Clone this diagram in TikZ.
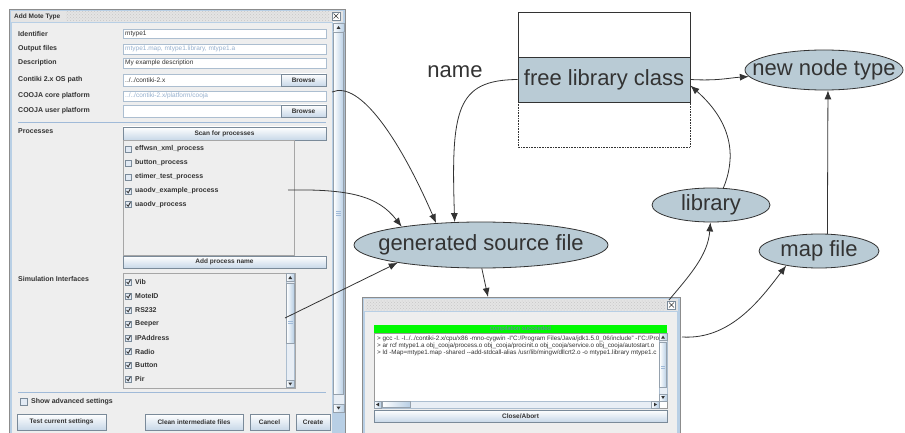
\documentclass[tikz,border=0pt]{standalone}
\usepackage{fontspec}
\setmainfont{Liberation Sans}
\usetikzlibrary{arrows.meta,shapes.geometric,patterns}

\definecolor{ink}{RGB}{51,51,51}
\definecolor{nodefill}{RGB}{185,203,213}
\definecolor{panel}{RGB}{238,238,238}
\definecolor{frameblue}{RGB}{184,207,229}
\definecolor{titlegray}{RGB}{228,228,228}
\definecolor{fieldline}{RGB}{172,190,208}
\definecolor{offblue}{RGB}{150,176,206}
\definecolor{sepblue}{RGB}{160,186,216}
\definecolor{btnline}{RGB}{122,138,153}
\definecolor{btnbot}{RGB}{200,216,232}
\definecolor{chkfill}{RGB}{226,234,244}
\definecolor{scrollblue}{RGB}{184,207,229}
\definecolor{trackfill}{RGB}{232,238,245}
\definecolor{okgreen}{RGB}{0,250,0}
\definecolor{oktext}{RGB}{115,115,185}

\tikzset{
  bubble/.style={ellipse,draw=ink,fill=nodefill,inner sep=0pt,line width=0.8pt,
    font=\fontsize{22}{24}\selectfont,text=ink},
  flow/.style={draw=ink,line width=0.8pt,-{Latex[length=9pt,width=7pt]}},
  ui/.style={font=\fontsize{7}{8}\selectfont\bfseries,text=ink,inner sep=0pt,anchor=west},
  entry/.style={font=\fontsize{6.5}{8}\selectfont,text=ink,inner sep=0pt,anchor=west},
  dimtext/.style={entry,text=offblue},
  field/.style={draw=fieldline,fill=white,line width=0.6pt},
  jbutton/.style={draw=btnline,top color=white,bottom color=btnbot,inner sep=0pt,line width=0.6pt,
    font=\fontsize{6.5}{8}\selectfont\bfseries,text=ink},
  chkbox/.style={draw=btnline,fill=chkfill,line width=0.5pt},
  checkmark/.style={draw=ink,line width=0.9pt},
  thumb/.style={draw=btnline!80,left color=white,right color=scrollblue,line width=0.4pt},
  track/.style={draw=fieldline,fill=trackfill,line width=0.4pt},
  winframe/.style={fill=frameblue,draw=black!45,line width=0.5pt},
  logtext/.style={font=\fontsize{6.3}{7}\selectfont,text=ink,inner sep=0pt,anchor=west},
}

\begin{document}
\begin{tikzpicture}[x=1pt,y=-1pt]
\useasboundingbox (0,0) rectangle (905,433);

% Add Mote Type dialog
\path[winframe] (9,9) rectangle (345,440);
\fill[titlegray] (11,11) rectangle (343,22);
\fill[pattern=crosshatch dots,pattern color=black!22] (66,12) rectangle (329,21);
\node[ui,font=\fontsize{6.5}{8}\selectfont\bfseries] (dlgtitle) at (14,16.5) {Add Mote Type};
\draw[chkbox,fill=white] (332,12) rectangle (340,20);
\draw[ink,line width=0.6pt] (333.5,13.5) -- (338.5,18.5) (333.5,18.5) -- (338.5,13.5);
\fill[panel] (12,23) rectangle (332,440);

% right scroll bar
\path[track] (333,23) rectangle (344,412);
\path[thumb] (333,23) rectangle (344,31);
\fill[ink] (336.5,29) -- (340.5,29) -- (338.5,26) -- cycle;
\path[thumb] (333.5,32) rectangle (343.5,394);
\draw[sepblue] (336,211) -- (341,211) (336,213) -- (341,213) (336,215) -- (341,215);
\path[thumb] (333,404) rectangle (344,412);
\fill[ink] (336.5,406.5) -- (340.5,406.5) -- (338.5,409.5) -- cycle;

% labels
\foreach \y/\t [count=\i] in {33.5/Identifier, 49/Output files, 63/Description,
    80/Contiki 2.x OS path, 96/COOJA core platform, 111/COOJA user platform,
    131/Processes, 279/Simulation Interfaces}
  \node[ui] (lbl\i) at (18,\y) {\t};

% text fields
\draw[field] (123,29) rectangle (326,38);
\node[entry] (fid) at (125,33.5) {mtype1};
\draw[field] (123,44) rectangle (326,54);
\node[dimtext] (fout) at (125,49) {mtype1.map, mtype1.library, mtype1.a};
\draw[field] (123,58) rectangle (326,68);
\node[entry] (fdesc) at (125,63) {My example description};
\draw[field] (123,74) rectangle (281,86);
\node[entry] (fpath) at (125,80) {../../contiki-2.x};
\node[jbutton,minimum width=45pt,minimum height=12pt] (browse1) at (303.5,80) {Browse};
\draw[field] (123,91) rectangle (326,101);
\node[dimtext] (fcore) at (125,96) {../../contiki-2.x/platform/cooja};
\draw[field] (123,105) rectangle (281,117);
\node[jbutton,minimum width=45pt,minimum height=12pt] (browse2) at (303.5,111) {Browse};
\draw[sepblue,line width=0.6pt] (18,122.5) -- (326,122.5);

% processes
\node[jbutton,minimum width=203pt,minimum height=13pt] (scan) at (224.5,133.5) {Scan for processes};
\draw[draw=black!35,fill=panel,line width=0.5pt] (123,140) rectangle (294,255);
\foreach \y/\t [count=\i] in {149/effwsn\_xml\_process, 163/button\_process,
    177/etimer\_test\_process, 191/uaodv\_example\_process, 204.5/uaodv\_process} {
  \draw[chkbox] (125,\y-3.2) rectangle (131.5,\y+3.2);
  \node[ui] (proc\i) at (135,\y) {\t};
}
\foreach \y in {191,204.5}
  \draw[checkmark] (126.6,\y) -- (128.2,\y+1.8) -- (130.4,\y-2.2);
\node[jbutton,minimum width=203pt,minimum height=12pt] (addproc) at (224.5,262) {Add process name};

% simulation interfaces
\draw[draw=black!35,fill=panel,line width=0.5pt] (123,273) rectangle (295,388);
\foreach \y/\t [count=\i] in {282/Vib, 296/MoteID, 310/RS232, 324/Beeper,
    338/IPAddress, 351.5/Radio, 365/Button, 379/Pir} {
  \draw[chkbox] (125,\y-3.2) rectangle (131.5,\y+3.2);
  \draw[checkmark] (126.6,\y) -- (128.2,\y+1.8) -- (130.4,\y-2.2);
  \node[ui] (intf\i) at (135,\y) {\t};
}
\path[track] (286,273.5) rectangle (294.5,387.5);
\path[thumb] (286,273.5) rectangle (294.5,281);
\fill[ink] (288.3,279) -- (292.2,279) -- (290.25,276) -- cycle;
\path[thumb] (286.5,283) rectangle (294,343);
\draw[sepblue] (288,321) -- (292.5,321) (288,323) -- (292.5,323);
\path[thumb] (286,380) rectangle (294.5,387.5);
\fill[ink] (288.3,382.5) -- (292.2,382.5) -- (290.25,385.5) -- cycle;

\draw[sepblue,line width=0.6pt] (18,392.5) -- (326,392.5);
\draw[chkbox] (20,398) rectangle (27,405);
\node[ui] (advanced) at (31,401.5) {Show advanced settings};

% dialog buttons
\node[jbutton,minimum width=89pt,minimum height=16pt] (btest) at (61.5,422) {Test current settings};
\node[jbutton,minimum width=98pt,minimum height=16pt] (bclean) at (194,422) {Clean intermediate files};
\node[jbutton,minimum width=39pt,minimum height=16pt] (bcancel) at (269.5,422) {Cancel};
\node[jbutton,minimum width=34pt,minimum height=16pt] (bcreate) at (313,422) {Create};

% compilation window
\path[winframe] (362,297) rectangle (680,440);
\fill[titlegray] (364,299) rectangle (678,311);
\fill[pattern=crosshatch dots,pattern color=black!22] (366,300.5) rectangle (665,310);
\draw[chkbox,fill=white] (667.5,301) rectangle (675.5,309);
\draw[ink,line width=0.6pt] (669,302.5) -- (674,307.5) (669,307.5) -- (674,302.5);
\fill[panel] (365,312) rectangle (677,440);
\node[fill=okgreen,minimum width=293pt,minimum height=8pt,inner sep=0pt,
  font=\fontsize{6}{7}\selectfont,text=oktext] (okbar) at (520.5,329) {compilation succeeded};
\draw[fill=white,draw=black!40,line width=0.5pt] (374,333) rectangle (667,408);
\begin{scope}
  \clip (375,334) rectangle (658.5,400.5);
  \node[logtext] (log1) at (377,338.5) {> gcc -I. -I../../contiki-2.x/cpu/x86 -mno-cygwin -I"C:/Program Files/Java/jdk1.5.0\_06/include" -I"C:/Prog};
  \node[logtext] (log2) at (377,345.5) {> ar rcf mtype1.a obj\_cooja/process.o obj\_cooja/procinit.o obj\_cooja/service.o obj\_cooja/autostart.o};
  \node[logtext] (log3) at (377,352.5) {> ld -Map=mtype1.map -shared -{}-add-stdcall-alias /usr/lib/mingw/dllcrt2.o -o mtype1.library mtype1.c};
\end{scope}
\path[track] (659,333) rectangle (667,401);
\path[thumb] (659,333) rectangle (667,340);
\fill[ink] (661.2,338.5) -- (664.8,338.5) -- (663,335.5) -- cycle;
\path[thumb] (659.5,342) rectangle (666.5,387);
\draw[sepblue] (661,366) -- (665,366) (661,368) -- (665,368);
\path[thumb] (659,394) rectangle (667,401);
\fill[ink] (661.2,396) -- (664.8,396) -- (663,399) -- cycle;
\path[track] (374,401) rectangle (659,408);
\path[thumb] (374,401) rectangle (381,408);
\fill[ink] (379,402.7) -- (379,406.3) -- (376,404.5) -- cycle;
\path[thumb] (382,401.5) rectangle (410,407.5);
\path[thumb] (651,401) rectangle (659,408);
\fill[ink] (654,402.7) -- (654,406.3) -- (657,404.5) -- cycle;
\node[jbutton,minimum width=293pt,minimum height=12pt] (closebtn) at (520.5,416) {Close/Abort};

% class box
\draw[ink,line width=0.8pt,fill=white] (518,12) rectangle (690,57);
\node[draw=ink,fill=nodefill,line width=0.8pt,minimum width=172pt,minimum height=45pt,inner sep=0pt,
  font=\fontsize{22}{24}\selectfont,text=ink] (cls) at (604,79.5) {free library class};
\draw[ink,densely dotted,line width=0.6pt] (518,102) rectangle (690,147);

% files and types
\node[bubble,minimum width=254pt,minimum height=46pt] (gen) at (481,245) {\makebox[0pt]{generated source file}};
\node[bubble,minimum width=118pt,minimum height=34pt] (lib) at (711,205) {\makebox[0pt]{library}};
\node[bubble,minimum width=120pt,minimum height=34pt] (map) at (819,251) {\makebox[0pt]{map file}};
\node[bubble,minimum width=158pt,minimum height=40pt] (nnt) at (824,70) {\makebox[0pt]{new node type}};
\node[font=\fontsize{22}{24}\selectfont,text=ink,inner sep=0pt] (namelbl) at (455,72) {name};

% connector ends inside the screenshots
\coordinate (corept) at (332,92);
\coordinate (procpt) at (288,190);
\coordinate (ifpt) at (285,318);
\coordinate (wintop) at (488,297);
\coordinate (winlib) at (669,300);
\coordinate (winmap) at (682,337);

\draw[flow] (corept) .. controls (360,80) and (400,140) .. (gen.154);
\draw[flow] (procpt) .. controls (350,189) and (378,196) .. (gen.167);
\draw[flow] (ifpt) -- (gen.192);
\draw[flow] (cls.west) .. controls (456,80) and (451,110) .. (gen.139);
\draw[flow] (gen.272) -- (wintop);
\draw[flow] (winlib) .. controls (690,275) and (708,255) .. (lib.268);
\draw[flow] (lib.54) .. controls (735,160) and (735,125) .. (cls.-4);
\draw[flow] (cls.east) .. controls (718,81) and (728,78) .. (nnt.185);
\draw[flow] (map.64) -- (nnt.-79);
\draw[flow] (winmap) .. controls (730,340) and (760,300) .. (map.204);
\end{tikzpicture}
\end{document}
